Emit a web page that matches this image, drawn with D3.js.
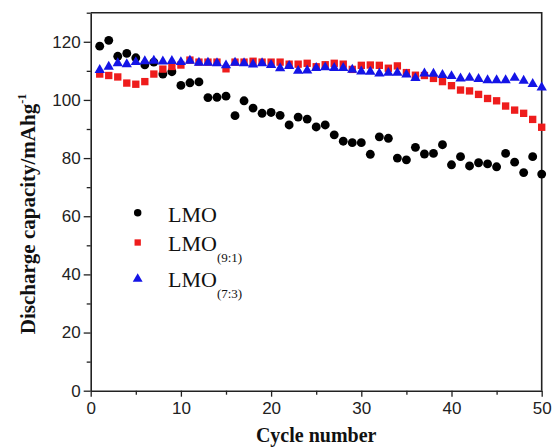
<!DOCTYPE html>
<html>
<head>
<meta charset="utf-8">
<script src="https://cdn.jsdelivr.net/npm/d3@7"></script>
<style>
  body { margin: 0; background: #fff; }
  .tick text { font-family: "Liberation Sans", Arial, sans-serif; font-size: 17px; fill: #222; }
</style>
</head>
<body>
<svg id="chart" width="552" height="447"></svg>
<script>
var cycles = [1,2,3,4,5,6,7,8,9,10,11,12,13,14,15,16,17,18,19,20,21,22,23,24,25,
              26,27,28,29,30,31,32,33,34,35,36,37,38,39,40,41,42,43,44,45,46,47,48,49,50];

var lmo = [118.5,120.5,115.0,116.0,114.5,112.1,113.0,108.9,109.7,105.0,
           105.9,106.2,100.8,100.9,101.3,94.6,99.7,97.2,95.4,95.7,
           94.7,91.4,94.1,93.4,90.7,91.4,88.0,85.8,85.3,85.3,
           81.3,87.3,86.8,80.0,79.4,83.7,81.4,81.6,84.6,77.7,
           80.5,77.3,78.4,78.0,77.0,81.6,78.6,75.0,80.5,74.5];

var lmo91 = [108.9,108.4,107.9,105.8,105.4,106.3,108.9,110.6,111.5,112.0,
             113.7,113.0,113.0,113.0,110.7,113.0,113.0,113.3,113.0,113.0,
             113.0,112.3,112.3,112.6,111.4,112.1,112.6,112.3,110.5,111.9,
             112.0,111.9,110.9,111.7,109.4,108.5,108.4,107.4,106.3,104.9,
             103.4,103.1,101.9,100.5,99.7,97.9,96.5,95.4,93.3,90.6];

var lmo73 = [110.3,111.4,112.6,112.3,113.0,113.3,113.5,113.2,113.4,113.0,
             113.5,112.8,112.8,112.6,111.9,112.8,112.6,112.2,112.6,112.0,
             110.9,111.7,110.0,110.1,111.0,111.2,111.0,111.0,110.4,109.8,
             109.7,109.1,109.3,109.3,108.7,107.5,109.1,109.0,108.6,108.2,
             107.4,107.6,107.2,106.8,106.8,106.8,107.6,106.6,105.5,104.3];

var xTicks = [0,10,20,30,40,50];
var yTicks = [0,20,40,60,80,100,120];

function drawChart(){
  var svg = d3.select("#chart"),
      left = 90.7, right = 541.7, top = 12.7, bottom = 390.7;

  var x = d3.scaleLinear().domain([0, 50]).range([left, right]);
  var y = d3.scaleLinear().domain([0, 130]).range([bottom, top]);

  // minor ticks first, then the major axes with labels
  svg.append("g")
      .attr("transform", "translate(0," + bottom + ")")
      .call(d3.axisBottom(x).tickValues([5,15,25,35,45]).tickSize(4).tickFormat(""))
      .call(function(g){ g.select(".domain").remove(); })
      .selectAll("line").attr("stroke", "#222").attr("stroke-width", 1.3);

  svg.append("g")
      .attr("transform", "translate(" + left + ",0)")
      .call(d3.axisLeft(y).tickValues([10,30,50,70,90,110,130]).tickSize(4).tickFormat(""))
      .call(function(g){ g.select(".domain").remove(); })
      .selectAll("line").attr("stroke", "#222").attr("stroke-width", 1.3);

  var xa = svg.append("g")
      .attr("transform", "translate(0," + bottom + ")")
      .call(d3.axisBottom(x).tickValues(xTicks).tickSize(6).tickPadding(5).tickSizeOuter(0));
  xa.select(".domain").attr("stroke", "#222").attr("stroke-width", 1.6);
  xa.selectAll("line").attr("stroke", "#222").attr("stroke-width", 1.3);

  var ya = svg.append("g")
      .attr("transform", "translate(" + left + ",0)")
      .call(d3.axisLeft(y).tickValues(yTicks).tickSize(7).tickPadding(3).tickSizeOuter(0));
  ya.select(".domain").attr("stroke", "#222").attr("stroke-width", 1.6);
  ya.selectAll("line").attr("stroke", "#222").attr("stroke-width", 1.3);

  // frame top and right
  svg.append("path")
      .attr("d", "M" + left + "," + top + "H" + right + "V" + bottom)
      .attr("fill", "none")
      .attr("stroke", "#222")
      .attr("stroke-width", 1.6);

  var series = [
    {values: lmo,   color: "#000000", symbol: d3.symbolCircle,   size: 62},
    {values: lmo91, color: "#ee1c1c", symbol: d3.symbolSquare,   size: 54},
    {values: lmo73, color: "#1414e6", symbol: d3.symbolTriangle, size: 46}
  ];

  series.forEach(function(s){
    svg.append("g")
      .selectAll("path")
      .data(cycles)
      .enter().append("path")
        .attr("transform", function(d, i){ return "translate(" + x(d) + "," + y(s.values[i]) + ")"; })
        .attr("d", d3.symbol().type(s.symbol).size(s.size))
        .attr("fill", s.color);
  });

  // legend
  var legend = svg.append("g")
      .attr("font-family", "'Liberation Serif', 'Times New Roman', serif")
      .attr("fill", "#111");
  var names = [["LMO", ""], ["LMO", "(9:1)"], ["LMO", "(7:3)"]];
  var ly = [221.5, 250.5, 287];
  var my = [212.7, 242.5, 279];
  var legendSize = [44, 40, 42];
  names.forEach(function(n, i){
    legend.append("path")
        .attr("transform", "translate(137.7," + my[i] + ")")
        .attr("d", d3.symbol().type(series[i].symbol).size(legendSize[i]))
        .attr("fill", series[i].color);
    var t = legend.append("text")
        .attr("x", 168)
        .attr("y", ly[i])
        .attr("font-size", 22)
        .text(n[0]);
    if (n[1]) {
      t.append("tspan")
          .attr("font-size", 13)
          .attr("dy", 11)
          .text(n[1]);
    }
  });

  // axis titles
  svg.append("text")
      .attr("x", (left + right) / 2)
      .attr("y", 442)
      .attr("text-anchor", "middle")
      .attr("font-family", "'Liberation Serif', 'Times New Roman', serif")
      .attr("font-weight", "bold")
      .attr("font-size", 20)
      .attr("fill", "#111")
      .text("Cycle number");

  var yt = svg.append("text")
      .attr("transform", "translate(35,214) rotate(-90)")
      .attr("text-anchor", "middle")
      .attr("font-family", "'Liberation Serif', 'Times New Roman', serif")
      .attr("font-weight", "bold")
      .attr("font-size", 21)
      .attr("fill", "#111")
      .text("Discharge capacity/mAhg");
  yt.append("tspan")
      .attr("font-size", 12)
      .attr("dy", -9)
      .text("-1");
}

drawChart();
</script>
</body>
</html>
